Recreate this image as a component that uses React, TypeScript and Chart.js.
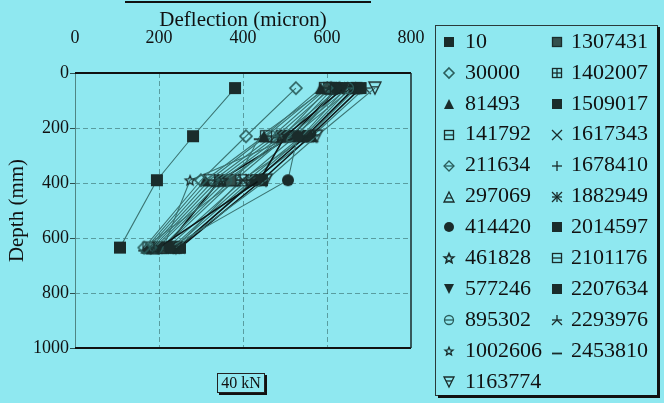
import React, { useEffect, useRef } from "react";
import { Chart, registerables } from "chart.js";

Chart.register(...registerables);

// ---------- data ----------
const depthsMm = [55, 230, 390, 635];

const seriesNames = [
  "10", "30000", "81493", "141792", "211634", "297069", "414420", "461828",
  "577246", "895302", "1002606", "1163774", "1307431", "1402007", "1509017",
  "1617343", "1678410", "1882949", "2014597", "2101176", "2207634", "2293976",
  "2453810",
];

// deflection (micron) at each depth in depthsMm
const defl10 = [381, 281, 195, 107];
const defl30000 = [526, 407, 300, 165];
const defl81493 = [585, 450, 310, 170];
const defl141792 = [595, 455, 320, 175];
const defl211634 = [600, 470, 330, 180];
const defl297069 = [610, 480, 340, 185];
const defl414420 = [620, 530, 507, 225];
const defl461828 = [630, 490, 350, 190];
const defl577246 = [640, 500, 440, 200];
const defl895302 = [650, 510, 360, 195];
const defl1002606 = [660, 520, 274, 210];
const defl1163774 = [714, 575, 455, 240];
const defl1307431 = [605, 495, 370, 205];
const defl1402007 = [615, 505, 380, 210];
const defl1509017 = [625, 515, 345, 215];
const defl1617343 = [635, 525, 400, 220];
const defl1678410 = [645, 540, 410, 230];
const defl1882949 = [655, 545, 420, 235];
const defl2014597 = [665, 550, 430, 245];
const defl2101176 = [670, 555, 395, 240];
const defl2207634 = [680, 560, 445, 250];
const defl2293976 = [690, 565, 425, 248];
const defl2453810 = [600, 440, 385, 165];

const seriesDeflections = [
  defl10, defl30000, defl81493, defl141792, defl211634, defl297069, defl414420,
  defl461828, defl577246, defl895302, defl1002606, defl1163774, defl1307431,
  defl1402007, defl1509017, defl1617343, defl1678410, defl1882949, defl2014597,
  defl2101176, defl2207634, defl2293976, defl2453810,
];

const xTickStep = 200;
const yTickStep = 200;
const xMax = 800;
const yMax = 1000;
const xAxisTitle = "Deflection (micron)";
const yAxisTitle = "Depth (mm)";
const loadLabel = "40 kN";

// ---------- styles ----------
const BG = "#8fe8f0";
const SERIF = "'Liberation Serif', 'Times New Roman', serif";

const markerKinds = [
  "square", "diamond", "triangle", "squareBar", "diamondBar", "triangleBar",
  "circle", "star", "triangleDown", "circleBar", "starSmall", "triangleDownBar",
  "squareGrey", "squareGrid", "square", "cross", "plus", "asterisk", "square",
  "squareBar", "square", "fork", "dash",
];

const blackLines = new Set([8, 14, 20, 18]);

function drawMarker(ctx: CanvasRenderingContext2D, kind: string, cx: number, cy: number, s: number) {
  const h = s / 2;
  const dark = "#1a2c2b";
  const teal = "#2b5e5c";
  ctx.save();
  ctx.lineWidth = 1.3;
  ctx.strokeStyle = dark;
  ctx.fillStyle = dark;
  const line = (x1: number, y1: number, x2: number, y2: number) => {
    ctx.beginPath();
    ctx.moveTo(x1, y1);
    ctx.lineTo(x2, y2);
    ctx.stroke();
  };
  const poly = (pts: number[][]) => {
    ctx.beginPath();
    pts.forEach(([x, y], k) => (k ? ctx.lineTo(x, y) : ctx.moveTo(x, y)));
    ctx.closePath();
  };
  const star = (r: number) => {
    const pts: number[][] = [];
    for (let k = 0; k < 10; k++) {
      const rr = k % 2 === 0 ? r : r * 0.45;
      const a = -Math.PI / 2 + (k * Math.PI) / 5;
      pts.push([cx + rr * Math.cos(a), cy + rr * Math.sin(a) + r * 0.1]);
    }
    poly(pts);
  };
  switch (kind) {
    case "square":
      ctx.fillRect(cx - h, cy - h, s, s);
      break;
    case "squareGrey":
      ctx.fillStyle = "#34504d";
      ctx.fillRect(cx - h, cy - h, s, s);
      ctx.strokeRect(cx - h + 0.5, cy - h + 0.5, s - 1, s - 1);
      break;
    case "diamond":
      ctx.strokeStyle = teal;
      ctx.lineWidth = 1.6;
      poly([[cx, cy - h], [cx + h, cy], [cx, cy + h], [cx - h, cy]]);
      ctx.stroke();
      break;
    case "triangle":
      poly([[cx, cy - h], [cx + h, cy + h], [cx - h, cy + h]]);
      ctx.fill();
      break;
    case "squareBar":
      ctx.strokeRect(cx - h + 0.5, cy - h + 0.5, s - 1, s - 1);
      line(cx - h, cy, cx + h, cy);
      break;
    case "diamondBar":
      ctx.strokeStyle = teal;
      poly([[cx, cy - h], [cx + h, cy], [cx, cy + h], [cx - h, cy]]);
      ctx.stroke();
      line(cx - h, cy, cx + h, cy);
      break;
    case "triangleBar":
      poly([[cx, cy - h], [cx + h, cy + h], [cx - h, cy + h]]);
      ctx.stroke();
      line(cx - h * 0.6, cy + h * 0.2, cx + h * 0.6, cy + h * 0.2);
      break;
    case "circle":
      ctx.beginPath();
      ctx.arc(cx, cy, h, 0, Math.PI * 2);
      ctx.fill();
      break;
    case "star":
      ctx.lineWidth = 1.6;
      star(h);
      ctx.stroke();
      break;
    case "triangleDown":
      poly([[cx - h, cy - h], [cx + h, cy - h], [cx, cy + h]]);
      ctx.fill();
      break;
    case "circleBar":
      ctx.strokeStyle = teal;
      ctx.beginPath();
      ctx.arc(cx, cy, h - 0.5, 0, Math.PI * 2);
      ctx.stroke();
      line(cx - h, cy, cx + h, cy);
      break;
    case "starSmall":
      star(h * 0.85);
      ctx.stroke();
      break;
    case "triangleDownBar":
      poly([[cx - h, cy - h], [cx + h, cy - h], [cx, cy + h]]);
      ctx.stroke();
      line(cx - h * 0.6, cy - h * 0.2, cx + h * 0.6, cy - h * 0.2);
      break;
    case "squareGrid":
      ctx.strokeRect(cx - h + 0.5, cy - h + 0.5, s - 1, s - 1);
      line(cx - h, cy, cx + h, cy);
      line(cx, cy - h, cx, cy + h);
      break;
    case "cross":
      line(cx - h, cy - h, cx + h, cy + h);
      line(cx - h, cy + h, cx + h, cy - h);
      break;
    case "plus":
      line(cx - h, cy, cx + h, cy);
      line(cx, cy - h, cx, cy + h);
      break;
    case "asterisk":
      line(cx - h, cy - h, cx + h, cy + h);
      line(cx - h, cy + h, cx + h, cy - h);
      line(cx - h, cy, cx + h, cy);
      line(cx, cy - h, cx, cy + h);
      break;
    case "fork":
      line(cx - h, cy, cx + h, cy);
      line(cx, cy - h, cx, cy);
      line(cx, cy, cx - h, cy + h);
      line(cx, cy, cx + h, cy + h);
      break;
    case "dash":
      ctx.lineWidth = 1.8;
      line(cx - h, cy + h * 0.5, cx + h, cy + h * 0.5);
      break;
  }
  ctx.restore();
}

function makeMarker(kind: string, s: number): HTMLCanvasElement {
  const c = document.createElement("canvas");
  c.width = s + 4;
  c.height = s + 4;
  const ctx = c.getContext("2d")!;
  drawMarker(ctx, kind, (s + 4) / 2, (s + 4) / 2, s);
  return c;
}

export default function App() {
  const canvasRef = useRef<HTMLCanvasElement | null>(null);

  useEffect(() => {
    if (!canvasRef.current) return;
    const plotMarkers = markerKinds.map((k) => makeMarker(k, 12));
    const legendMarkers = markerKinds.map((k) => makeMarker(k, 10));

    const framePlugin = {
      id: "frame",
      beforeDatasetsDraw(chart: any) {
        const { ctx, chartArea: a } = chart;
        ctx.save();
        ctx.strokeStyle = "#4f8584";
        ctx.lineWidth = 1;
        ctx.beginPath();
        ctx.moveTo(a.left + 0.5, a.top);
        ctx.lineTo(a.left + 0.5, a.bottom);
        ctx.stroke();
        ctx.strokeStyle = "#111";
        ctx.lineWidth = 2;
        ctx.beginPath();
        ctx.moveTo(a.left, a.top);
        ctx.lineTo(a.right, a.top);
        ctx.moveTo(a.left, a.bottom);
        ctx.lineTo(a.right, a.bottom);
        ctx.stroke();
        ctx.lineWidth = 1.5;
        ctx.strokeStyle = "#1a2a2a";
        ctx.beginPath();
        ctx.moveTo(a.right, a.top);
        ctx.lineTo(a.right, a.bottom);
        ctx.stroke();
        ctx.restore();
      },
    };

    const legendPlugin = {
      id: "sideLegend",
      afterDraw(chart: any) {
        const ctx: CanvasRenderingContext2D = chart.ctx;
        ctx.save();
        // cut-off title box at the very top
        ctx.fillStyle = "#111";
        ctx.fillRect(125, 1, 246, 2);
        // legend box
        ctx.strokeStyle = "#2a3a3a";
        ctx.lineWidth = 1;
        ctx.strokeRect(435.5, 25.5, 222, 370);
        ctx.fillStyle = "#111";
        ctx.fillRect(657, 27, 3, 371);
        ctx.fillRect(438, 395, 222, 3);
        ctx.font = `22px ${SERIF}`;
        ctx.textBaseline = "middle";
        ctx.textAlign = "left";
        chart.data.datasets.forEach((ds: any, i: number) => {
          const col = i < 12 ? 0 : 1;
          const row = i < 12 ? i : i - 12;
          const y = 41 + row * 30.9;
          const mx = col ? 557 : 449;
          const tx = col ? 571 : 465;
          const m = legendMarkers[i];
          ctx.drawImage(m, Math.round(mx - m.width / 2), Math.round(y - m.height / 2 + 1));
          ctx.fillStyle = "#111";
          ctx.fillText(ds.label, tx, y + 1);
        });
        // load label box
        ctx.fillStyle = BG;
        ctx.fillRect(217, 373, 48, 20);
        ctx.strokeStyle = "#222";
        ctx.lineWidth = 1;
        ctx.strokeRect(217.5, 373.5, 47, 19);
        ctx.fillStyle = "#111";
        ctx.fillRect(265, 375, 2, 20);
        ctx.fillRect(219, 393, 48, 2);
        ctx.font = `16px ${SERIF}`;
        ctx.textAlign = "center";
        ctx.fillText(loadLabel, 241, 384);
        ctx.restore();
      },
    };

    const gridColor = (max: number) => (c: any) =>
      c.tick && (c.tick.value === 0 || c.tick.value === max) ? "rgba(0,0,0,0)" : "rgba(45,95,95,0.55)";

    const chart = new Chart(canvasRef.current, {
      type: "scatter",
      data: {
        datasets: seriesNames.map((name, i) => ({
          label: name,
          data: depthsMm.map((d, j) => ({ x: seriesDeflections[i][j], y: d })),
          showLine: true,
          borderColor: blackLines.has(i) ? "#0d1616" : "#3b7472",
          borderWidth: blackLines.has(i) ? 1.6 : 1.1,
          pointStyle: plotMarkers[i] as any,
          pointRadius: 6,
          backgroundColor: "#1a2c2b",
        })),
      },
      options: {
        animation: false,
        responsive: true,
        maintainAspectRatio: false,
        layout: { padding: { left: 0, top: 0, right: 253, bottom: 55 } },
        plugins: {
          legend: { display: false },
          tooltip: { enabled: false },
        },
        scales: {
          x: {
            type: "linear",
            position: "top",
            min: 0,
            max: xMax,
            ticks: {
              stepSize: xTickStep,
              color: "#111",
              font: { family: SERIF, size: 18 },
              padding: 24,
              maxRotation: 0,
              callback: (v: any) => String(v),
            },
            grid: { color: gridColor(xMax) as any, lineWidth: 1, drawTicks: false },
            border: { display: false, dash: [5, 3] },
            title: {
              display: true,
              text: xAxisTitle,
              color: "#111",
              font: { family: SERIF, size: 21 },
              padding: { top: 8, bottom: 0 },
            },
            afterFit: (s: any) => {
              s.height = 73;
            },
          },
          y: {
            type: "linear",
            reverse: true,
            min: 0,
            max: yMax,
            ticks: {
              stepSize: yTickStep,
              color: "#111",
              font: { family: SERIF, size: 18 },
              padding: 1,
              callback: (v: any) => String(v),
            },
            grid: {
              color: gridColor(yMax) as any,
              lineWidth: 1,
              drawTicks: true,
              tickLength: 5,
              tickColor: "#2d4f4f",
            },
            border: { display: false, dash: [5, 3] },
            title: {
              display: true,
              text: yAxisTitle,
              color: "#111",
              font: { family: SERIF, size: 21 },
              padding: { top: 5, bottom: 0 },
            },
            afterFit: (s: any) => {
              s.width = 75;
            },
          },
        },
      },
      plugins: [framePlugin, legendPlugin],
    } as any);

    return () => chart.destroy();
  }, []);

  return (
    <div
      style={{
        position: "fixed",
        left: 0,
        top: 0,
        width: 664,
        height: 403,
        background: BG,
      }}
    >
      <canvas ref={canvasRef} />
    </div>
  );
}
